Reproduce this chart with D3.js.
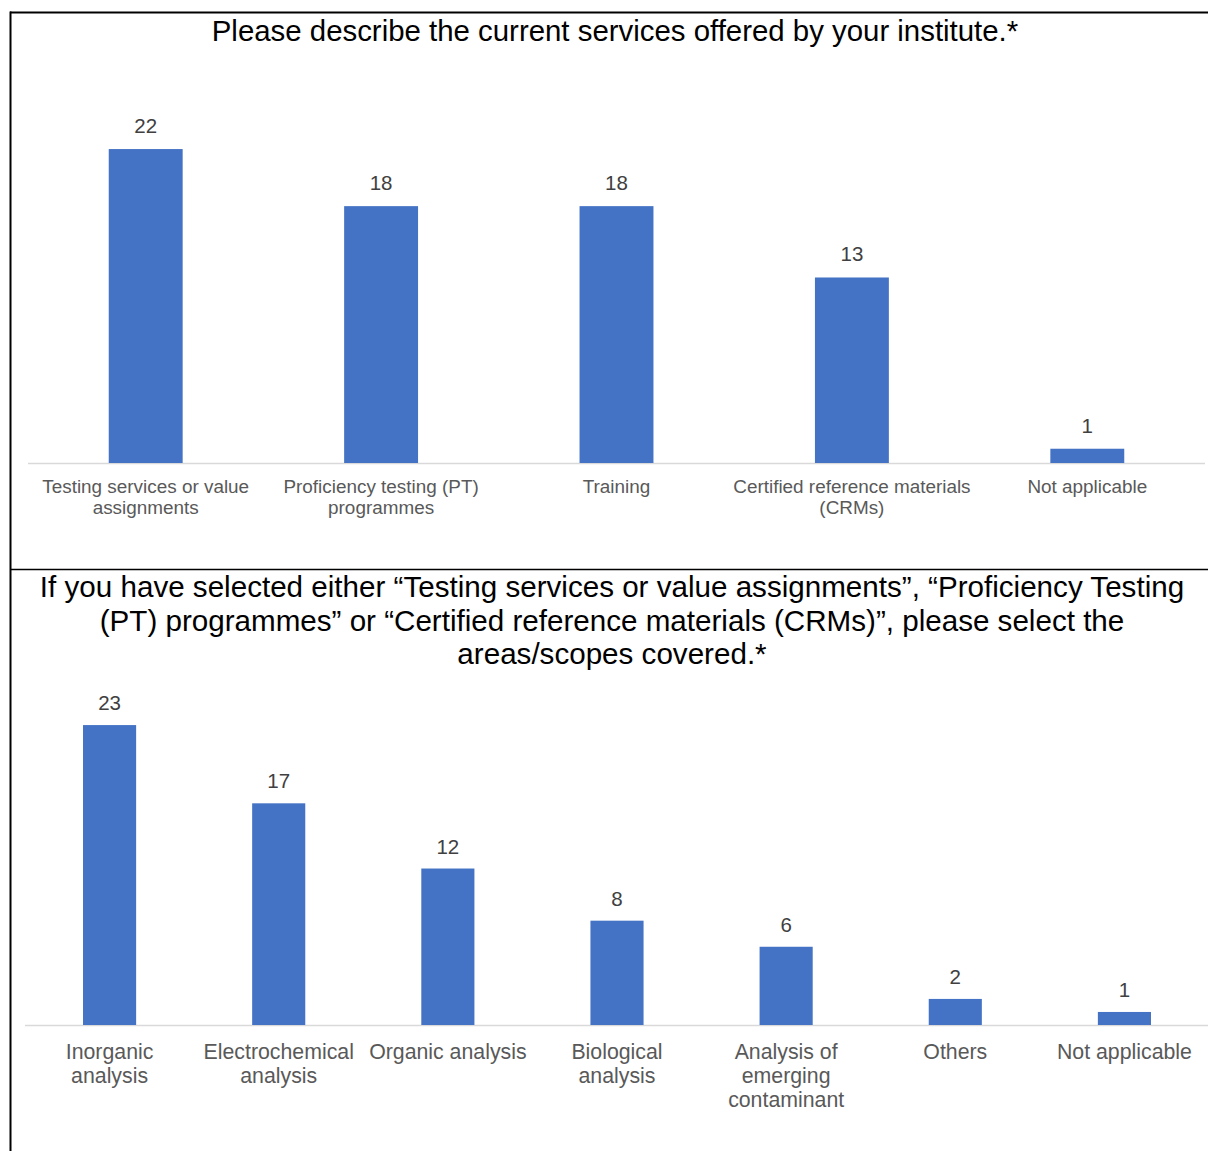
<!DOCTYPE html>
<html>
<head>
<meta charset="utf-8">
<script src="https://cdn.jsdelivr.net/npm/d3@7"></script>
<style>
  html, body { margin: 0; padding: 0; background: #fff; }
  svg { display: block; font-family: "Liberation Sans", Arial, sans-serif; }
</style>
</head>
<body>
<svg id="chart" width="1208" height="1151"></svg>
<script>
// Survey answers: services offered
const servicesTitle = ["Please describe the current services offered by your institute.*"];
const servicesCategories = [
  "Testing services or value assignments",
  "Proficiency testing (PT) programmes",
  "Training",
  "Certified reference materials (CRMs)",
  "Not applicable"
];
const servicesValues = [22, 18, 18, 13, 1];

// Survey answers: areas / scopes covered
const scopesTitle = [
  "If you have selected either \u201CTesting services or value assignments\u201D, \u201CProficiency Testing",
  "(PT) programmes\u201D or \u201CCertified reference materials (CRMs)\u201D, please select the",
  "areas/scopes covered.*"
];
const scopesCategories = [
  "Inorganic analysis",
  "Electrochemical analysis",
  "Organic analysis",
  "Biological analysis",
  "Analysis of emerging contaminant",
  "Others",
  "Not applicable"
];
const scopesValues = [23, 17, 12, 8, 6, 2, 1];

const svg = d3.select("#chart");
const BAR = "#4472C4";

// Frame lines around the two panels
svg.append("line").attr("x1", 10).attr("x2", 1208).attr("y1", 12.5).attr("y2", 12.5)
  .attr("stroke", "#000").attr("stroke-width", 2);
svg.append("line").attr("x1", 10.5).attr("x2", 10.5).attr("y1", 11.5).attr("y2", 1151)
  .attr("stroke", "#000").attr("stroke-width", 2);
svg.append("line").attr("x1", 10).attr("x2", 1208).attr("y1", 569.5).attr("y2", 569.5)
  .attr("stroke", "#000").attr("stroke-width", 1.6);

// Break a label into lines no wider than maxW
function wrapLines(textSel, str, maxW) {
  const words = str.split(" ");
  const lines = [];
  let cur = "";
  const probe = textSel.append("tspan");
  words.forEach(w => {
    const trial = cur ? cur + " " + w : w;
    probe.text(trial);
    if (probe.node().getComputedTextLength() > maxW && cur) {
      lines.push(cur);
      cur = w;
    } else {
      cur = trial;
    }
  });
  if (cur) lines.push(cur);
  probe.remove();
  return lines;
}

function drawPanel(opt) {
  const g = svg.append("g");

  // Title
  const t = g.append("text")
    .attr("text-anchor", "middle")
    .attr("font-size", opt.titleSize)
    .attr("fill", "#000");
  opt.title.forEach((line, i) => {
    t.append("tspan").attr("x", opt.titleX).attr("y", opt.titleY + i * opt.titleLH).text(line);
  });

  const x = d3.scaleBand()
    .domain(opt.categories)
    .range(opt.xRange)
    .paddingInner(0.686)
    .paddingOuter(0.343);

  const y = d3.scaleLinear().domain([0, 25]).range([opt.base, opt.base - 25 * opt.unit]);

  // Baseline
  g.append("line")
    .attr("x1", opt.xRange[0]).attr("x2", opt.xRange[1])
    .attr("y1", opt.base + 0.5).attr("y2", opt.base + 0.5)
    .attr("stroke", "#d9d9d9").attr("stroke-width", 1.5);

  const data = opt.categories.map((c, i) => ({ c, v: opt.values[i] }));

  g.selectAll("rect.bar").data(data).join("rect")
    .attr("class", "bar")
    .attr("x", d => x(d.c))
    .attr("width", x.bandwidth())
    .attr("y", d => y(d.v))
    .attr("height", d => y(0) - y(d.v))
    .attr("fill", BAR);

  g.selectAll("text.val").data(data).join("text")
    .attr("class", "val")
    .attr("x", d => x(d.c) + x.bandwidth() / 2)
    .attr("y", d => y(d.v) - opt.valGap)
    .attr("text-anchor", "middle")
    .attr("font-size", opt.valSize)
    .attr("fill", "#404040")
    .text(d => d.v);

  data.forEach(d => {
    const cx = x(d.c) + x.bandwidth() / 2;
    const lab = g.append("text")
      .attr("text-anchor", "middle")
      .attr("font-size", opt.catSize)
      .attr("fill", "#595959");
    const lines = wrapLines(lab, d.c, opt.wrapW);
    lines.forEach((ln, i) => {
      lab.append("tspan").attr("x", cx).attr("y", opt.base + opt.catGap + i * opt.catLH).text(ln);
    });
  });
}

drawPanel({
  title: servicesTitle, titleX: 615, titleY: 41, titleLH: 33.5, titleSize: 29.4,
  categories: servicesCategories, values: servicesValues,
  xRange: [28, 1205], base: 463, unit: 14.27,
  valSize: 20.5, valGap: 16, catSize: 18.9, catGap: 30, catLH: 21, wrapW: 240
});

drawPanel({
  title: scopesTitle, titleX: 612, titleY: 597, titleLH: 33.5, titleSize: 29.6,
  categories: scopesCategories, values: scopesValues,
  xRange: [25, 1209], base: 1025, unit: 13.04,
  valSize: 20.5, valGap: 15, catSize: 21.3, catGap: 34, catLH: 24, wrapW: 162
});
</script>
</body>
</html>
